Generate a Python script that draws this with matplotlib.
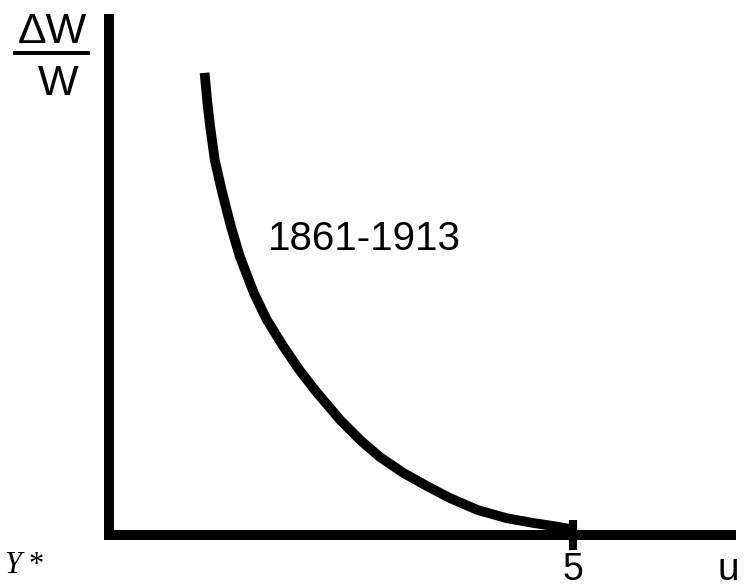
import numpy as np
import matplotlib.pyplot as plt
from matplotlib.lines import Line2D

# Phillips curve 1861-1913
u = [1.03, 1.06, 1.09, 1.14, 1.22, 1.315, 1.41, 1.56, 1.70, 1.88, 2.05, 2.22, 2.49, 2.71,
     2.92, 3.17, 3.44, 3.67, 3.97, 4.29, 4.57, 4.83, 5.00]
dw = [4.98, 4.66, 4.40, 4.04, 3.69, 3.32, 3.00, 2.61, 2.32, 2.03, 1.78, 1.56, 1.24, 1.02,
      0.84, 0.67, 0.52, 0.40, 0.27, 0.18, 0.13, 0.09, 0.06]
tick_u = [5]
tick_labels = ["5"]
period = "1861-1913"

W, H = 747, 587
fig = plt.figure(figsize=(W / 100, H / 100), dpi=100)
ax = fig.add_axes([0, 0, 1, 1])
scale = 92.8  # px per unit
ax.set_xlim(-109 / scale, (W - 109) / scale)
ax.set_ylim(-(H - 535) / scale, 535 / scale)

ax.spines["bottom"].set_position(("data", 0))
for s in ax.spines.values():
    s.set_visible(False)
ax.set_yticks([])

# axes drawn as thick lines
ax.plot([-5 / scale, 627 / scale], [0, 0], color="black", lw=7.2, solid_capstyle="butt")
ax.plot([0, 0], [0, 521 / scale], color="black", lw=7.2, solid_capstyle="butt")

ax.plot(u, dw, color="black", lw=7.0, solid_capstyle="butt", solid_joinstyle="round")

ax.set_xticks(tick_u)
ax.set_xticklabels(tick_labels)
ax.tick_params(axis="x", direction="inout", length=21, width=5.8, pad=2,
               labelsize=27, labelfontfamily="Liberation Sans")

ax.text(1.71, (535 - 250) / scale, period, fontsize=29,
        family="Liberation Sans", va="baseline")

def fx(px):
    return px / W

def fy(py):
    return 1 - py / H

fig.text(fx(52), fy(43), "ΔW", fontsize=31, family="Liberation Sans", ha="center", va="baseline")
fig.add_artist(Line2D([fx(15), fx(88)], [fy(53), fy(53)], color="black", lw=2.8))
fig.text(fx(58), fy(95), "W", fontsize=31, family="Liberation Sans", ha="center", va="baseline")

fig.text(fx(718), fy(580), "u", fontsize=28, family="Liberation Sans", va="baseline")
fig.text(fx(4), fy(573), "Y", fontsize=22, family="Liberation Serif", style="italic", va="baseline")
fig.text(fx(29), fy(573), "*", fontsize=22, family="Liberation Serif", va="baseline")

fig.savefig("out.png", dpi=100)
